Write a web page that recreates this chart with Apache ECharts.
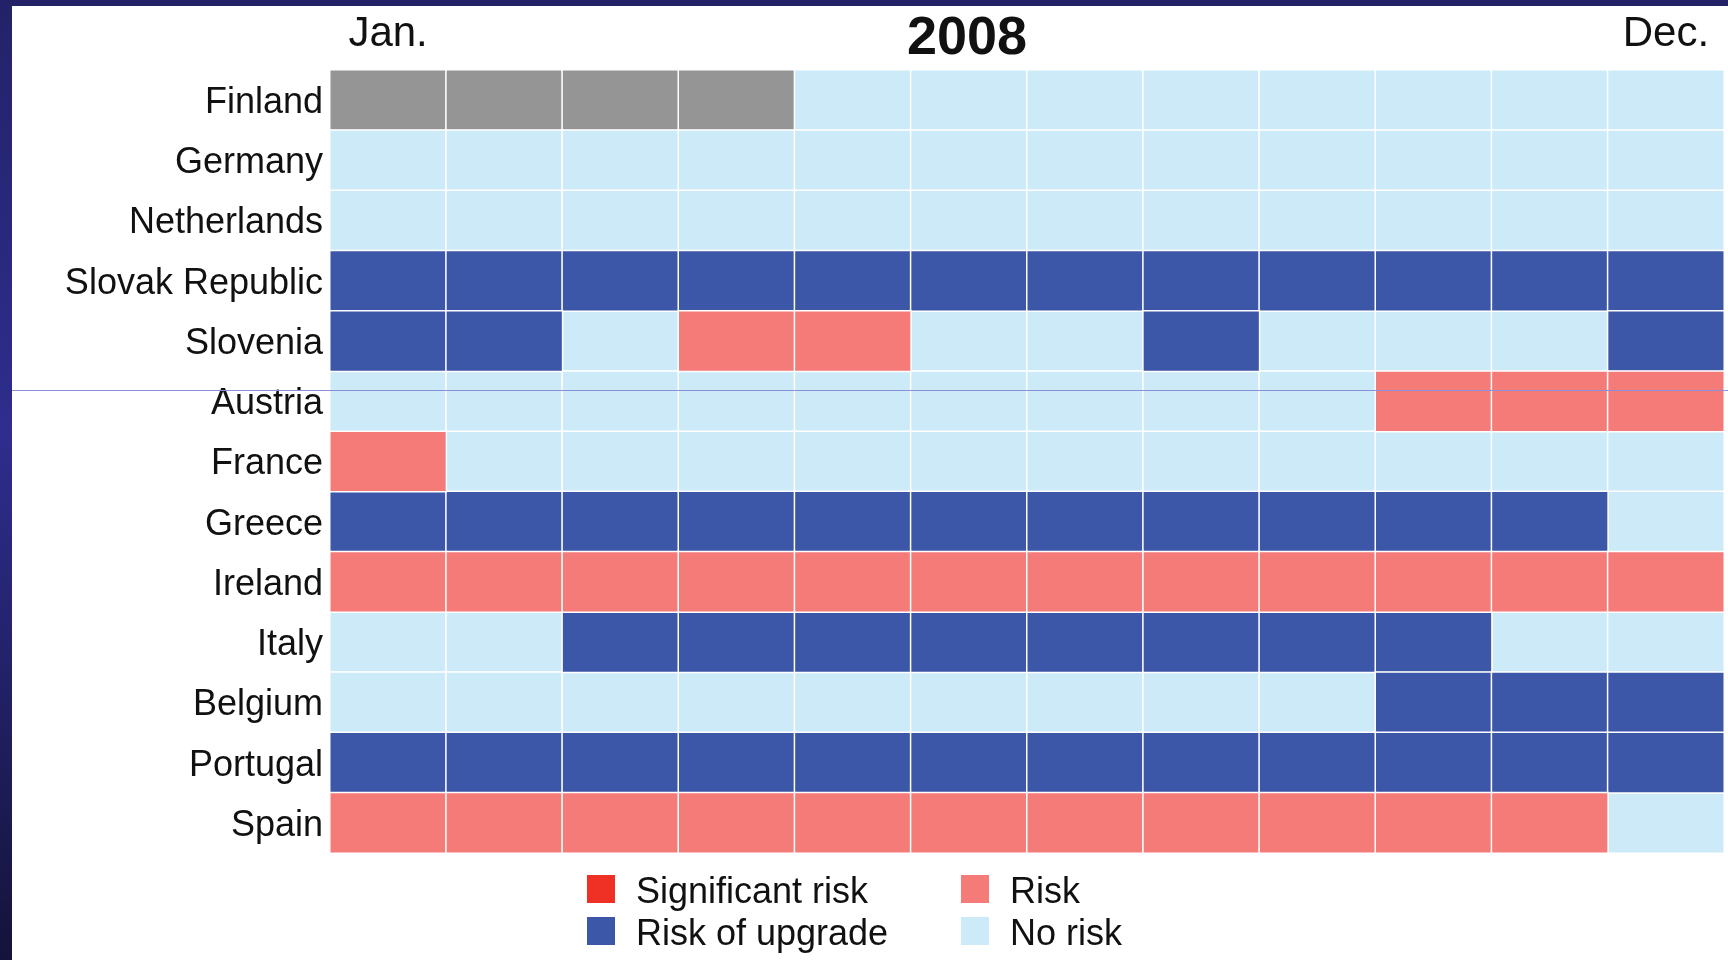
<!DOCTYPE html>
<html>
<head>
<meta charset="utf-8">
<script src="https://cdn.jsdelivr.net/npm/echarts@6/dist/echarts.min.js"></script>
<style>
    html, body {
        margin: 0;
        padding: 0;
        width: 1728px;
        height: 960px;
        overflow: hidden;
        background: linear-gradient(to bottom, #232268 0%, #2f2d8e 45%, #14133a 100%);
    }
    #main {
        position: absolute;
        left: 12px;
        top: 6px;
        width: 1716px;
        height: 954px;
        background: #fff;
    }
</style>
</head>
<body>
<div id="main"></div>
<script>
    var months = ['Jan.', 'Feb.', 'Mar.', 'Apr.', 'May', 'Jun.', 'Jul.', 'Aug.', 'Sep.', 'Oct.', 'Nov.', 'Dec.'];
    var countries = ['Finland', 'Germany', 'Netherlands', 'Slovak Republic', 'Slovenia', 'Austria',
        'France', 'Greece', 'Ireland', 'Italy', 'Belgium', 'Portugal', 'Spain'];

    // 0 = no data, 1 = no risk, 2 = risk of upgrade, 3 = risk, 4 = significant risk
    var statusNames = ['No data', 'No risk', 'Risk of upgrade', 'Risk', 'Significant risk'];
    var statusColors = ['#959595', '#cdeaf8', '#3c56a8', '#f47b77', '#ee3124'];

    var finland     = [0, 0, 0, 0, 1, 1, 1, 1, 1, 1, 1, 1];
    var germany     = [1, 1, 1, 1, 1, 1, 1, 1, 1, 1, 1, 1];
    var netherlands = [1, 1, 1, 1, 1, 1, 1, 1, 1, 1, 1, 1];
    var slovakia    = [2, 2, 2, 2, 2, 2, 2, 2, 2, 2, 2, 2];
    var slovenia    = [2, 2, 1, 3, 3, 1, 1, 2, 1, 1, 1, 2];
    var austria     = [1, 1, 1, 1, 1, 1, 1, 1, 1, 3, 3, 3];
    var france      = [3, 1, 1, 1, 1, 1, 1, 1, 1, 1, 1, 1];
    var greece      = [2, 2, 2, 2, 2, 2, 2, 2, 2, 2, 2, 1];
    var ireland     = [3, 3, 3, 3, 3, 3, 3, 3, 3, 3, 3, 3];
    var italy       = [1, 1, 2, 2, 2, 2, 2, 2, 2, 2, 1, 1];
    var belgium     = [1, 1, 1, 1, 1, 1, 1, 1, 1, 2, 2, 2];
    var portugal    = [2, 2, 2, 2, 2, 2, 2, 2, 2, 2, 2, 2];
    var spain       = [3, 3, 3, 3, 3, 3, 3, 3, 3, 3, 3, 1];

    var rows = [finland, germany, netherlands, slovakia, slovenia, austria,
        france, greece, ireland, italy, belgium, portugal, spain];

    // legend layout: 2 x 2
    var legendItems = ['Significant risk', 'Risk of upgrade', 'Risk', 'No risk'];
    var legendLeft = [575, 575, 949, 949];
    var legendTop = [869, 911, 869, 911];

    var myChart = echarts.init(document.getElementById('main'));

    var seriesData = [];
    statusNames.forEach(function (name, k) {
        var cells = [];
        rows.forEach(function (row, y) {
            row.forEach(function (v, x) {
                if (v === k) {
                    cells.push([x, y, v]);
                }
            });
        });
        seriesData.push({
            name: name,
            type: 'heatmap',
            data: cells,
            itemStyle: {
                color: statusColors[k],
                borderColor: '#fff',
                borderWidth: 1.5
            },
            emphasis: { disabled: true },
            silent: true
        });
    });

    var fontFamily = 'Liberation Sans, Arial, sans-serif';

    var legends = legendItems.map(function (name, i) {
        return {
            left: legendLeft[i],
            top: legendTop[i],
            padding: 0,
            itemWidth: 28,
            itemHeight: 28,
            icon: 'rect',
            selectedMode: false,
            itemStyle: { borderWidth: 0 },
            formatter: '{a|{name}}',
            textStyle: {
                color: '#111',
                fontSize: 36,
                fontFamily: fontFamily,
                padding: [0, 0, 0, 16],
                rich: {
                    a: {
                        color: '#111',
                        fontSize: 36,
                        fontFamily: fontFamily,
                        padding: [9, 0, 0, 0]
                    }
                }
            },
            data: [name]
        };
    });

    var option = {
        animation: false,
        textStyle: { fontFamily: fontFamily },
        title: {
            text: '2008',
            left: 955,
            top: 6,
            textAlign: 'center',
            padding: 0,
            textStyle: {
                color: '#111',
                fontSize: 54,
                fontWeight: 'bold',
                fontFamily: fontFamily
            }
        },
        legend: legends,
        grid: {
            left: 318,
            right: 4,
            top: 64,
            bottom: 107
        },
        xAxis: {
            type: 'category',
            position: 'top',
            data: months,
            axisLine: { show: false },
            axisTick: { show: false },
            splitLine: { show: false },
            axisLabel: {
                color: '#111',
                fontSize: 42,
                margin: 15,
                interval: function (index) {
                    return index === 0 || index === months.length - 1;
                }
            }
        },
        yAxis: {
            type: 'category',
            inverse: true,
            data: countries,
            axisLine: { show: false },
            axisTick: { show: false },
            splitLine: { show: false },
            axisLabel: {
                margin: 7,
                formatter: '{a|{value}}',
                rich: {
                    a: {
                        color: '#111',
                        fontSize: 36,
                        fontFamily: fontFamily,
                        padding: [6, 0, 0, 0]
                    }
                }
            }
        },
        graphic: [{
            type: 'line',
            z: 100,
            silent: true,
            shape: { x1: 0, y1: 384.5, x2: 1716, y2: 384.5 },
            style: { stroke: '#8a8fd6', lineWidth: 1 }
        }],
        series: seriesData
    };

    myChart.setOption(option);
</script>
</body>
</html>
